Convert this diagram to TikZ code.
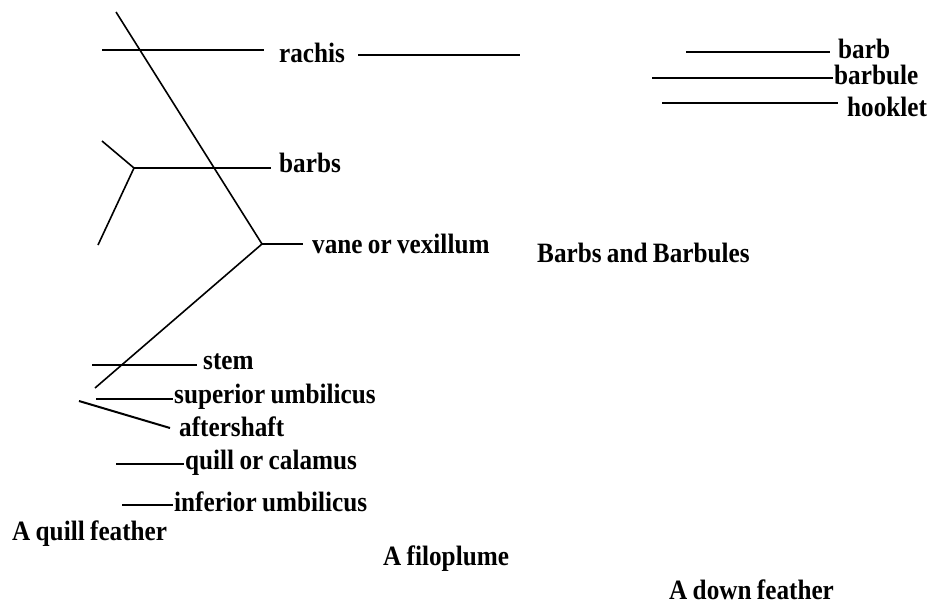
\documentclass[tikz,border=0pt]{standalone}
\usepackage{fontspec}
\setmainfont[FakeStretch=0.9,WordSpace=0.85]{Liberation Serif}
\begin{document}
\begin{tikzpicture}[x=1pt,y=-1pt,
  lbl/.style={anchor=base west,inner sep=0pt,font=\fontsize{28}{32}\selectfont\bfseries},
  ln/.style={line width=2pt},
  thin/.style={line width=1.6pt}]
\useasboundingbox (0,0) rectangle (931,605);
% --- labels ---
\node[lbl] (rachis) at (279,62) {rachis};
\node[lbl] (barbs) at (279,172) {barbs};
\node[lbl] (vane) at (312,253) {vane or vexillum};
\node[lbl] (stem) at (203,369) {stem};
\node[lbl] (sup) at (174,403) {superior umbilicus};
\node[lbl] (aft) at (179,436) {aftershaft};
\node[lbl] (quill) at (185,469) {quill or calamus};
\node[lbl] (inf) at (174,511) {inferior umbilicus};
\node[lbl] (tquill) at (12,540) {A quill feather};
\node[lbl] (tfilo) at (383,565) {A filoplume};
\node[lbl] (tbb) at (537,262) {Barbs and Barbules};
\node[lbl] (tdown) at (669,599) {A down feather};
\node[lbl] (barb) at (838,58) {barb};
\node[lbl] (barbule) at (834,84) {barbule};
\node[lbl] (hook) at (847,116) {hooklet};
% --- coordinates ---
\coordinate (top) at (116,12);
\coordinate (vfork) at (262,244);
\coordinate (base) at (95,388);
\coordinate (bfork) at (134,168);
\coordinate (b1) at (102,141);
\coordinate (b2) at (98,245);
\coordinate (r1) at (102,50);
\coordinate (r1e) at (264,50);
\coordinate (r2) at (358,55);
\coordinate (r2e) at (520,55);
\coordinate (be) at (271,168);
\coordinate (ve) at (303,244);
\coordinate (s1) at (92,365);
\coordinate (s1e) at (197,365);
\coordinate (su1) at (96,399);
\coordinate (su1e) at (173,399);
\coordinate (a1) at (79,401);
\coordinate (a1e) at (170,428);
\coordinate (q1) at (116,464);
\coordinate (q1e) at (184,464);
\coordinate (i1) at (122,505);
\coordinate (i1e) at (173,505);
\coordinate (d1) at (686,52);
\coordinate (d1e) at (830,52);
\coordinate (d2) at (652,78);
\coordinate (d2e) at (833,78);
\coordinate (d3) at (662,103);
\coordinate (d3e) at (838,103);
% --- lines ---
\draw[thin] (top) -- (vfork);
\draw[thin] (vfork) -- (base);
\draw[thin] (b1) -- (bfork) -- (b2);
\draw[ln] (r1) -- (r1e);
\draw[ln] (r2) -- (r2e);
\draw[ln] (bfork) -- (be);
\draw[ln] (vfork) -- (ve);
\draw[ln] (s1) -- (s1e);
\draw[ln] (su1) -- (su1e);
\draw[ln] (a1) -- (a1e);
\draw[ln] (q1) -- (q1e);
\draw[ln] (i1) -- (i1e);
\draw[ln] (d1) -- (d1e);
\draw[ln] (d2) -- (d2e);
\draw[ln] (d3) -- (d3e);
\end{tikzpicture}
\end{document}
